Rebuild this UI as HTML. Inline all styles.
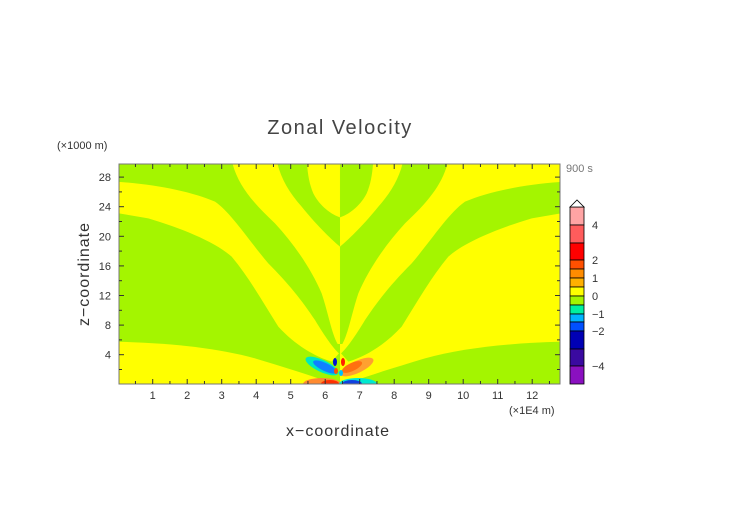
<!DOCTYPE html>
<html><head><meta charset="utf-8"><style>
body{margin:0;background:#fff;}
svg{display:block;font-family:"Liberation Sans",sans-serif;}
</style></head><body>
<svg id="chart" width="752" height="532" viewBox="0 0 752 532">
<defs><clipPath id="pc"><rect x="119" y="164" width="441" height="220"/></clipPath>
<clipPath id="lh"><rect x="119" y="164" width="221" height="220"/></clipPath>
<clipPath id="rh"><rect x="340" y="164" width="220" height="220"/></clipPath></defs>
<text x="340" y="134" font-size="20" letter-spacing="1.5" fill="#444" text-anchor="middle">Zonal Velocity</text>
<text x="57" y="149" font-size="11" fill="#333">(×1000 m)</text>
<text x="566" y="172" font-size="11" fill="#777">900 s</text>
<g clip-path="url(#pc)">
 <g id="left" clip-path="url(#lh)">
  <rect x="119" y="164" width="221" height="220" fill="#a4f500"/>
  <g transform="translate(115,160) scale(0.3333)" fill="#ffff00">
   <path d="M575,0 L675,0 L675,172 C640,160 610,130 595,100 C582,70 578,40 575,0Z"/>
   <path d="M350,0 C365,70 410,125 480,190 C540,255 590,330 620,400 C640,460 650,520 668,552 L675,552 L675,260 C645,235 600,190 560,140 C520,95 495,50 485,0Z"/>
   <path d="M0,65 C120,72 230,95 300,125 C350,160 400,240 460,310 C520,370 560,420 600,480 C630,530 655,565 672,580 L650,605 C600,590 540,555 490,500 C440,420 400,350 350,290 C300,245 200,205 100,175 L0,158Z"/>
   <path d="M0,545 C150,548 300,562 420,595 C520,625 600,650 680,680 L0,680Z"/>
  </g>
 </g>
 <g id="right" clip-path="url(#rh)">
  <rect x="340" y="164" width="220" height="220" fill="#ffff00"/>
  <g transform="translate(565,160) scale(-0.3333,0.3333)" fill="#a4f500">
   <path d="M575,0 L675,0 L675,172 C640,160 610,130 595,100 C582,70 578,40 575,0Z"/>
   <path d="M350,0 C365,70 410,125 480,190 C540,255 590,330 620,400 C640,460 650,520 668,552 L675,552 L675,260 C645,235 600,190 560,140 C520,95 495,50 485,0Z"/>
   <path d="M0,65 C120,72 230,95 300,125 C350,160 400,240 460,310 C520,370 560,420 600,480 C630,530 655,565 672,580 L650,605 C600,590 540,555 490,500 C440,420 400,350 350,290 C300,245 200,205 100,175 L0,158Z"/>
   <path d="M0,545 C150,548 300,562 420,595 C520,625 600,650 680,680 L0,680Z"/>
  </g>
 </g>
 <g>
  <ellipse cx="322" cy="366" rx="18" ry="6" transform="rotate(25 322 366)" fill="#00e8c0"/>
  <ellipse cx="325" cy="367" rx="13" ry="4" transform="rotate(25 325 367)" fill="#1080ff"/>
  <ellipse cx="335" cy="362" rx="2" ry="4" fill="#0010d0"/>
  <ellipse cx="357" cy="367" rx="18" ry="6" transform="rotate(-25 357 367)" fill="#ffa030"/>
  <ellipse cx="352" cy="367" rx="11" ry="4" transform="rotate(-25 352 367)" fill="#ff7010"/>
  <ellipse cx="343" cy="362" rx="2" ry="4" fill="#ff2000"/>
  <ellipse cx="336" cy="371" rx="2" ry="3" fill="#ff5000"/>
  <ellipse cx="341" cy="373" rx="2" ry="3" fill="#00c0ff"/>
  <ellipse cx="322" cy="384" rx="19" ry="6" fill="#ff8a30"/>
  <ellipse cx="330" cy="384" rx="9" ry="4" fill="#ff3000"/>
  <ellipse cx="358" cy="384" rx="19" ry="6" fill="#00e8d0"/>
  <ellipse cx="352" cy="384" rx="10" ry="4" fill="#1040e0"/>
 </g>
</g>
<rect x="119" y="164" width="441" height="220" fill="none" stroke="#777" stroke-width="1"/>
<g id="axes" stroke="#333" stroke-width="1"></g>
<g id="labels" font-size="11" fill="#333"></g>
<g id="cbar"></g>
<text x="509" y="414" font-size="11" fill="#333">(×1E4 m)</text>
<text x="338" y="436" font-size="16" letter-spacing="1" fill="#333" text-anchor="middle">x−coordinate</text>
<text x="0" y="0" font-size="16" letter-spacing="1" fill="#333" text-anchor="middle" transform="translate(89,274) rotate(-90)">z−coordinate</text>
</svg>
<script>
const xTicks=[1,2,3,4,5,6,7,8,9,10,11,12];
const yTicks=[4,8,12,16,20,24,28];
const cbLevels=[5,4,3,2,1.5,1,0.5,0,-0.5,-1,-1.5,-2,-3,-4,-5];
const cbColors=["#ffa4a4","#ff5c5c","#ff0000","#ff5000","#ff8c00","#ffb000","#ffff00","#a4f500","#00f0a0","#00b4ff","#0050ff","#0000b4","#3a0aa0","#8a10c0"];
const cbTickVals=[4,2,1,0,-1,-2,-4];
const cbTickText=["4","2","1","0","\u22121","\u22122","\u22124"];
const NS="http://www.w3.org/2000/svg";
const sx=v=>118.2+v*34.5, sy=v=>384.3-v*7.4;
const cbPos=[207,225,243,260,269,278,287,296,305,314,322,331,349,366,384];
function cby(v){for(let i=0;i<cbLevels.length-1;i++){const a=cbLevels[i],b=cbLevels[i+1];if(v<=a&&v>=b)return cbPos[i]+(a-v)/(a-b)*(cbPos[i+1]-cbPos[i]);}return 384;}
function mk(t,a,p){const e=document.createElementNS(NS,t);for(const k in a)e.setAttribute(k,a[k]);p.appendChild(e);return e;}
const ax=document.getElementById('axes'),lb=document.getElementById('labels'),cb=document.getElementById('cbar');
for(let v=0.5;v<12.8;v+=0.5){const x=sx(v),L=(v%1===0)?5:3;
 const t1=mk('line',{x1:x,x2:x,y1:384,y2:384-L},ax);
 
 
 const t2=mk('line',{x1:x,x2:x,y1:164,y2:164+L},ax);
 
 }
for(let v=2;v<30;v+=2){const y=sy(v),L=(v%4===0)?5:3;
 const t1=mk('line',{x1:119,x2:119+L,y1:y,y2:y},ax);
 
 
 const t2=mk('line',{x1:560,x2:560-L,y1:y,y2:y},ax);
 
 }
xTicks.forEach(v=>{const t=mk('text',{x:sx(v),y:399,'text-anchor':'middle'},lb);t.textContent=v;
 
 });
yTicks.forEach(v=>{const t=mk('text',{x:111,y:sy(v)+4,'text-anchor':'end'},lb);t.textContent=v;
 
 });
cbColors.forEach((c,i)=>{const y0=cby(cbLevels[i]),y1=cby(cbLevels[i+1]);
 const r=mk('rect',{x:570,y:y0,width:14,height:y1-y0,fill:c,stroke:'#000','stroke-width':0.8},cb);
 
 });
const tri=mk('path',{d:'M570,207 L577,200 L584,207Z',fill:'#fff',stroke:'#000','stroke-width':0.8},cb);


cbTickVals.forEach((v,i)=>{const t=mk('text',{x:592,y:cby(v)+4,'font-size':11,fill:'#333'},cb);t.textContent=cbTickText[i];
 
 });
</script>
</body></html>
